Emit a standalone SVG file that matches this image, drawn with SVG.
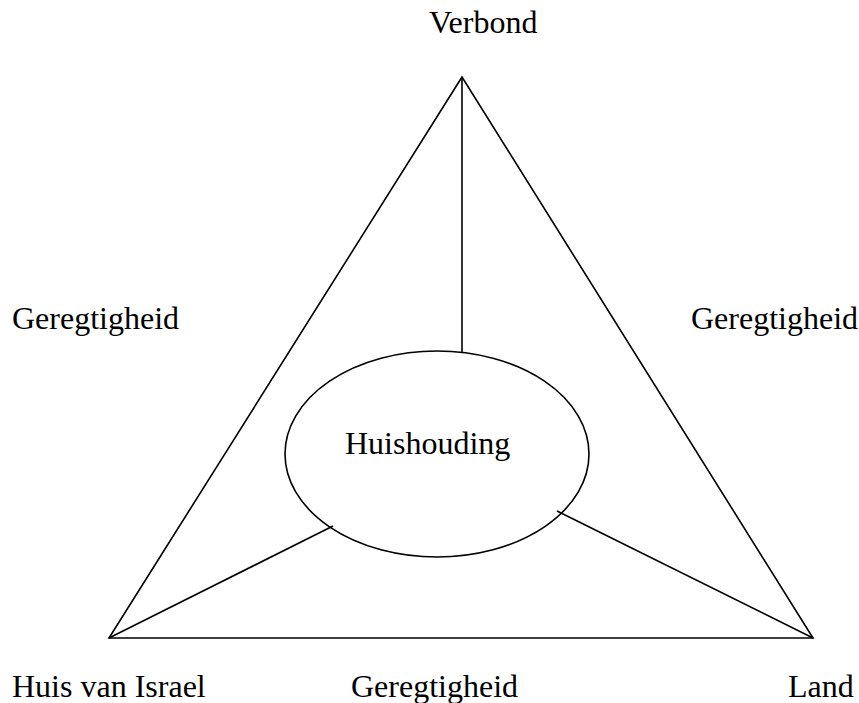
<svg xmlns="http://www.w3.org/2000/svg" width="859" height="703" viewBox="0 0 859 703">
<style>
.t{font-family:"Liberation Serif","Times New Roman",serif;font-size:32px;fill:#000}
.s{fill:none;stroke:#000;stroke-width:1.6}
</style>
<rect width="859" height="703" fill="#fff"/>
<g id="triangle"><polygon class="s" points="462,77 109,638 813,638"/></g>
<g id="connectors">
<line class="s" x1="462" y1="77" x2="462" y2="352"/>
<line class="s" x1="109" y1="638" x2="333" y2="526"/>
<line class="s" x1="813" y1="638" x2="557" y2="511"/>
</g>
<g id="huishouding">
<ellipse class="s" cx="437" cy="454" rx="152" ry="103"/>
<text class="t" x="345" y="454">Huishouding</text>
</g>
<g id="verbond"><text class="t" x="429" y="33">Verbond</text></g>
<g id="geregtigheid-left"><text class="t" x="12" y="329">Geregtigheid</text></g>
<g id="geregtigheid-right"><text class="t" x="691" y="329">Geregtigheid</text></g>
<g id="huis-van-israel"><text class="t" x="12" y="697">Huis van Israel</text></g>
<g id="geregtigheid-bottom"><text class="t" x="351" y="697">Geregtigheid</text></g>
<g id="land"><text class="t" x="788" y="697">Land</text></g>
</svg>
